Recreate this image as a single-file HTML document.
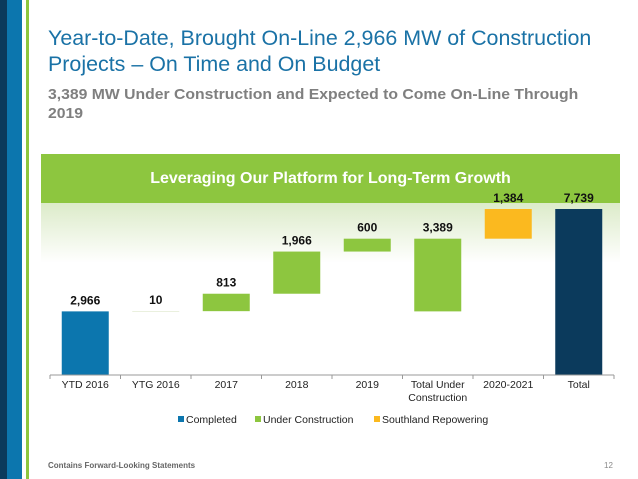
<!DOCTYPE html>
<html><head><meta charset="utf-8"><style>
body{margin:0;width:638px;height:479px;overflow:hidden;background:#fff;font-family:"Liberation Sans",sans-serif;position:relative}
.a{position:absolute}
</style></head><body>
<div class="a" style="left:0;top:0;width:7px;height:479px;background:#0b3a5c"></div>
<div class="a" style="left:7px;top:0;width:15px;height:479px;background:#0c76ae"></div>
<div class="a" style="left:26px;top:0;width:3px;height:479px;background:#8dc63f"></div>
<div class="a" style="left:48px;top:26px;font-size:21px;line-height:26px;color:#1a72a6;transform:scaleX(1.02);transform-origin:left">Year-to-Date, Brought On-Line 2,966 MW of Construction<br>Projects – On Time and On Budget</div>
<div class="a" style="left:48px;top:85px;font-size:15px;line-height:19px;color:#7f7f7f;font-weight:bold;transform:scaleX(1.05);transform-origin:left">3,389 MW Under Construction and Expected to Come On-Line Through<br>2019</div>
<div class="a" style="left:41px;top:154px;width:579px;height:49px;background:#8dc63f;color:#fff;font-weight:bold;font-size:16px;line-height:49px;text-align:center">Leveraging Our Platform for Long-Term Growth</div>
<div class="a" style="left:41px;top:203px;width:579px;height:60px;background:linear-gradient(#dcebc9,#fff)"></div>
<svg class="a" style="left:0;top:0" width="638" height="479" id="chart"></svg>
<div class="a" style="left:48px;top:461px;font-size:8px;color:#666;font-weight:bold">Contains Forward-Looking Statements</div>
<div class="a" style="left:604px;top:461px;font-size:8px;color:#888">12</div>
<script>
const categories=["YTD 2016","YTG 2016","2017","2018","2019","Total Under|Construction","2020-2021","Total"];
const values=[2966,10,813,1966,600,3389,1384,7739];
const bases=[0,2966,2976,3789,5755,2966,6355,0];
const seriesIdx=[0,1,1,1,1,1,2,3];
const colors=["#0c76ae","#8dc63f","#fbb91f","#0b3a5c"];
const legend=["Completed","Under Construction","Southland Repowering"];
const ns="http://www.w3.org/2000/svg",svg=document.getElementById('chart');
const x0=50,cw=70.5,y0=375,k=166/7739;
const X=i=>x0+cw*i+cw/2, Y=v=>y0-v*k;
function mk(t,a){const e=document.createElementNS(ns,t);for(const p in a)e.setAttribute(p,a[p]);svg.appendChild(e);return e;}
categories.forEach((c,i)=>{
 const top=Y(bases[i]+values[i]),bot=Y(bases[i]);
 const r=mk('rect',{x:X(i)-23.5,y:top,width:47,height:Math.max(bot-top,0.8),fill:values[i]<50?'#e6ecd6':colors[seriesIdx[i]]});
 
 
 const t=mk('text',{x:X(i),y:top-7,'text-anchor':'middle','font-size':'12','font-weight':'bold',fill:'#111'});
 t.textContent=values[i].toLocaleString('en-US');
 
 
 c.split('|').forEach((ln,j)=>{const l=mk('text',{x:X(i),y:388+j*13,'text-anchor':'middle','font-size':'10.5',fill:'#222'});l.textContent=ln;
 
 });
});
mk('line',{x1:x0,x2:x0+cw*8,y1:y0,y2:y0,stroke:'#999','stroke-width':1});
for(let i=0;i<=8;i++)mk('line',{x1:x0+cw*i,x2:x0+cw*i,y1:y0,y2:y0+4,stroke:'#999'});
const lx=[178,255,374];
legend.forEach((n,i)=>{
 const s=mk('rect',{x:lx[i],y:416,width:6,height:6,fill:colors[i]});
 
 
 const t=mk('text',{x:lx[i]+8,y:423,'font-size':'10.5',fill:'#222'});t.textContent=n;
 
 
});
</script>
</body></html>
